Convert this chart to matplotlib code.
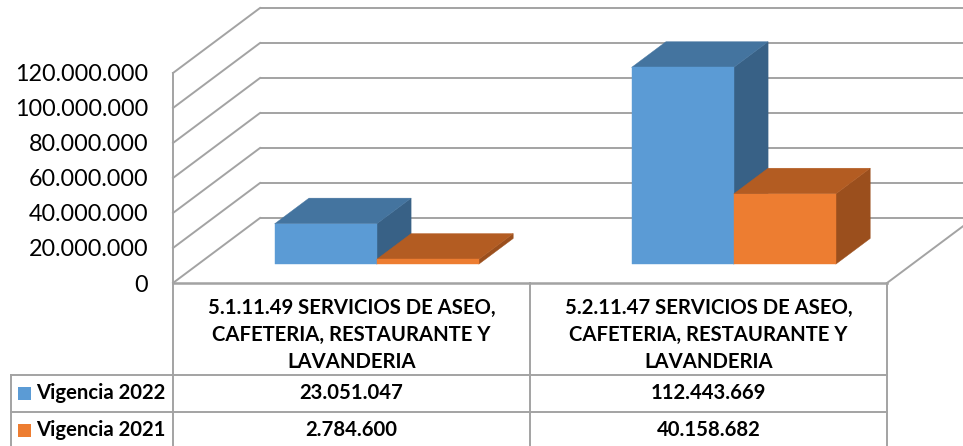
import matplotlib
matplotlib.use("Agg")
import matplotlib.pyplot as plt
from matplotlib.patches import Polygon, Rectangle
from matplotlib.transforms import blended_transform_factory

# ---------------- data ----------------
category_lines = [
    ["5.1.11.49 SERVICIOS DE ASEO,", "CAFETERIA, RESTAURANTE Y", "LAVANDERIA"],
    ["5.2.11.47 SERVICIOS DE ASEO,", "CAFETERIA, RESTAURANTE Y", "LAVANDERIA"],
]
series_names = ["Vigencia 2022", "Vigencia 2021"]
vigencia_2022 = [23051047, 112443669]
vigencia_2021 = [2784600, 40158682]
y_ticks = [0, 20000000, 40000000, 60000000, 80000000, 100000000, 120000000]

# ---------------- style ----------------
W, H = 963, 446
FONT = "Lato"
GRID = "#a3a3a3"
LW = 1.4
front_cols = ["#5b9bd5", "#ed7d31"]
top_cols = ["#44749f", "#b35c22"]
side_cols = ["#386186", "#9b4f1d"]
DX, DY = 87.0, 65.0          # full depth offset of the walls (pixels)
F1, F2 = 0.29, 0.685         # bar front / back depth fractions
BAR_W = 0.286                # bar width in category units
TAB_FS = 14.6


def fmt(v):
    return f"{v:,.0f}".replace(",", ".")


fig = plt.figure(figsize=(W / 100, H / 100), dpi=100)
ax = fig.add_axes([173 / W, (H - 283) / H, (887 - 173) / W, (283 - 73) / H])
ax.set_xlim(0, 2)
ax.set_ylim(0, y_ticks[-1])
ax.patch.set_visible(False)
for s in ax.spines.values():
    s.set_visible(False)
ax.set_xticks([])
ax.set_yticks(y_ticks)
ax.set_yticklabels([fmt(v) for v in y_ticks], fontname=FONT, fontsize=16.8)
ax.tick_params(axis="y", length=0, pad=18)

# data units per pixel
sx = (887 - 173) / 2.0
sy = (283 - 73) / float(y_ticks[-1])
ddx = DX / sx
ddy = DY / sy


def P(x, v, f):
    return (x + f * ddx, v + f * ddy)


# back wall gridlines and side wall gridlines
for v in y_ticks:
    a = P(0, v, 1)
    b = P(2, v, 1)
    ax.plot([a[0], b[0]], [a[1], b[1]], color=GRID, lw=LW, clip_on=False, zorder=1,
            solid_capstyle="butt")
    c = P(0, v, 0)
    ax.plot([c[0], a[0]], [c[1], a[1]], color=GRID, lw=LW, clip_on=False, zorder=1)

# floor front and right edges
ax.plot([0, 2], [0, 0], color=GRID, lw=LW * 1.3, clip_on=False, zorder=1)
r = P(2, 0, 1)
ax.plot([2, r[0]], [0, r[1]], color=GRID, lw=LW, clip_on=False, zorder=1)
# side wall front edge
ax.plot([0, 0], [0, y_ticks[-1]], color=GRID, lw=LW, clip_on=False, zorder=1)

# bars
series = [vigencia_2022, vigencia_2021]
z = 2
for i in range(2):
    c = i + 0.5
    for j, vals in enumerate(series):
        v = vals[i]
        x0 = c - BAR_W + j * BAR_W
        x1 = x0 + BAR_W
        side = [P(x1, 0, F1), P(x1, 0, F2), P(x1, v, F2), P(x1, v, F1)]
        top = [P(x0, v, F1), P(x1, v, F1), P(x1, v, F2), P(x0, v, F2)]
        front = [P(x0, 0, F1), P(x1, 0, F1), P(x1, v, F1), P(x0, v, F1)]
        for poly, col in ((side, side_cols[j]), (top, top_cols[j]), (front, front_cols[j])):
            ax.add_patch(Polygon(poly, closed=True, facecolor=col, edgecolor=col,
                                 lw=0.3, clip_on=False, zorder=z))
            z += 1

# ---------------- data table ----------------
tab = fig.add_axes([0, 0, 1, 1])
tab.set_xlim(0, W)
tab.set_ylim(H, 0)
tab.axis("off")
tab.patch.set_visible(False)
bt = blended_transform_factory(ax.transData, tab.transData)

ROW_TOP, ROW1, ROW2, ROW_BOT = 283, 375, 412, 452
LEFT_X = 11
for b in (0, 1, 2):
    tab.plot([b, b], [ROW_TOP, ROW_BOT], color=GRID, lw=LW, transform=bt, clip_on=False)
for yy in (ROW1, ROW2):
    tab.plot([LEFT_X, 887], [yy, yy], color=GRID, lw=LW, clip_on=False)
tab.plot([LEFT_X, LEFT_X], [ROW1, ROW_BOT], color=GRID, lw=LW, clip_on=False)

# header text
for i, lines in enumerate(category_lines):
    for k, ln in enumerate(lines):
        tab.text(i + 0.5, 308 + 27 * k, ln, transform=bt, ha="center", va="center",
                 fontname=FONT, fontweight="bold", fontsize=TAB_FS, color="black")

# rows
row_y = [393, 430]
for j, (name, vals) in enumerate(zip(series_names, series)):
    y = row_y[j]
    tab.add_patch(Rectangle((18, y - 6.5), 13, 13, facecolor=front_cols[j], edgecolor="none"))
    tab.text(36, y, name, ha="left", va="center", fontname=FONT, fontweight="bold",
             fontsize=TAB_FS, color="black")
    for i, v in enumerate(vals):
        tab.text(i + 0.5, y, fmt(v), transform=bt, ha="center", va="center",
                 fontname=FONT, fontweight="bold", fontsize=TAB_FS, color="black")

fig.savefig("out.png", dpi=100)
